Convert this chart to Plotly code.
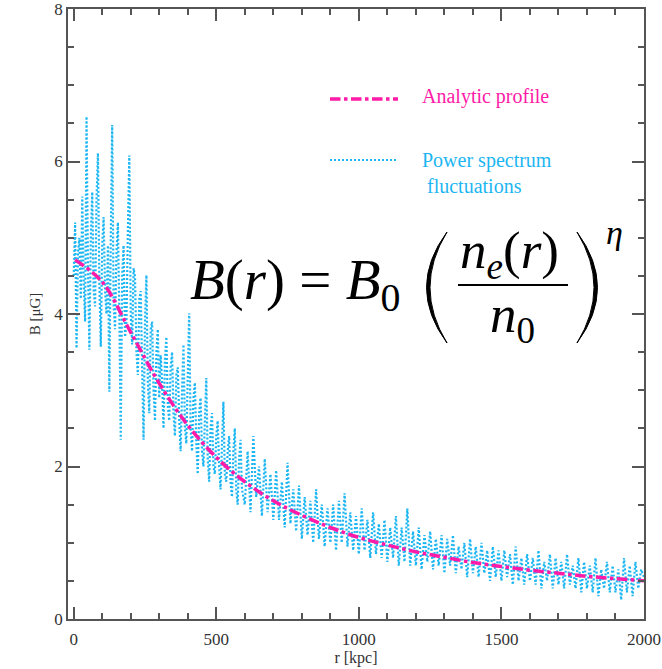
import plotly.graph_objects as go

# ---------------- data ----------------
r_analytic = [5, 100, 200, 300, 400, 500, 600, 700, 800, 900, 1000,
              1100, 1200, 1300, 1400, 1500, 1600, 1700, 1800, 1900, 2000]
B_analytic = [4.71, 4.42, 3.76, 3.09, 2.54, 2.12, 1.80, 1.55, 1.36, 1.20, 1.07,
              0.97, 0.88, 0.81, 0.74, 0.69, 0.64, 0.60, 0.56, 0.53, 0.50]

# fluctuating profile, 0-595 kpc sampled every 5 kpc
B_fluct_inner = [
    4.5, 5.2, 3.55, 4.8, 5.0, 4.2, 5.54, 4.4, 3.9, 6.59,
    4.6, 3.53, 5.0, 5.6, 4.3, 4.1, 5.5, 6.11, 4.4, 3.57,
    4.9, 5.27, 4.3, 4.0, 4.9, 2.98, 5.0, 6.48, 4.1, 3.8,
    4.8, 5.2, 4.0, 2.35, 4.5, 4.9, 3.7, 3.9, 5.1, 6.08,
    4.0, 3.6, 4.6, 4.49, 3.5, 3.2, 4.2, 4.3, 3.3, 2.35,
    3.9, 4.51, 3.1, 2.7, 3.8, 3.9, 3.0, 2.6, 3.5, 3.8,
    2.9, 3.46, 3.1, 2.5, 3.4, 3.70, 2.8, 2.6, 3.3, 3.5,
    2.7, 2.4, 3.2, 3.3, 2.6, 2.2, 3.0, 3.6, 2.5, 2.3,
    3.2, 4.01, 2.5, 2.2, 2.9, 3.1, 2.3, 1.9, 2.7, 2.9,
    2.2, 2.0, 2.6, 3.16, 2.1, 1.8, 2.5, 2.7, 2.0, 1.9,
    2.4, 2.6, 2.0, 1.7, 2.3, 2.85, 1.9, 1.8, 2.2, 2.4,
    1.8, 1.6, 2.2, 2.5, 1.7, 1.5, 2.1, 2.35, 1.7, 1.6,
]
# fluctuating profile, 600-2000 kpc sampled every 10 kpc
B_fluct_outer = [
    1.5, 2.2, 1.4, 2.4, 1.6, 2.0, 1.35, 2.1, 1.4, 1.9,
    1.3, 1.95, 1.3, 1.8, 1.2, 2.05, 1.25, 1.7, 1.15, 1.75,
    1.05, 1.6, 1.1, 1.55, 1.0, 1.7, 1.05, 1.5, 0.95, 1.45,
    1.0, 1.5, 0.9, 1.55, 1.0, 1.65, 0.95, 1.4, 0.9, 1.35,
    0.85, 1.45, 0.9, 1.3, 0.8, 1.4, 0.85, 1.25, 0.8, 1.3,
    0.75, 1.2, 0.8, 1.35, 0.7, 1.2, 0.75, 1.45, 0.7, 1.15,
    0.7, 1.2, 0.65, 1.1, 0.75, 1.15, 0.65, 1.05, 0.7, 1.1,
    0.6, 1.05, 0.7, 1.1, 0.6, 0.95, 0.65, 1.0, 0.55, 1.05,
    0.6, 0.95, 0.55, 1.0, 0.6, 0.9, 0.5, 0.95, 0.55, 0.9,
    0.5, 0.9, 0.55, 0.85, 0.45, 0.95, 0.5, 0.8, 0.45, 0.85,
    0.5, 0.8, 0.45, 0.9, 0.4, 0.75, 0.5, 0.85, 0.4, 0.8,
    0.45, 0.75, 0.4, 0.85, 0.45, 0.7, 0.4, 0.8, 0.35, 0.75,
    0.4, 0.7, 0.35, 0.8, 0.3, 0.65, 0.4, 0.75, 0.35, 0.7,
    0.35, 0.65, 0.25, 0.8, 0.35, 0.7, 0.3, 0.75, 0.4, 0.65,
    0.55,
]
r_fluct = ([i * 5 for i in range(len(B_fluct_inner))]
           + [600 + i * 10 for i in range(len(B_fluct_outer))])
B_fluct = B_fluct_inner + B_fluct_outer

x_ticks = [0, 500, 1000, 1500, 2000]
y_ticks = [0, 2, 4, 6, 8]

legend_labels = ["Analytic profile", "Power spectrum<br> fluctuations"]

# ---------------- style ----------------
W, H = 662, 669
L, R, T, B = 68, 18, 9, 50
PW, PH = W - L - R, H - T - B

MAGENTA = "#ff1aa8"
BLUE = "#1cb6f2"
AXIS = "#555555"
SERIF = "Liberation Serif, Times New Roman, serif"


def px(x):
    return (x - L) / PW


def py(y):
    return (H - B - y) / PH


fig = go.Figure()
fig.add_trace(go.Scatter(x=r_fluct, y=B_fluct, mode="lines",
                         line=dict(color=BLUE, width=2.2, dash="2px,2px"),
                         showlegend=False))
fig.add_trace(go.Scatter(x=r_analytic, y=B_analytic, mode="lines",
                         line=dict(color=MAGENTA, width=3.5, dash="dashdot", shape="spline"),
                         showlegend=False))

axis_common = dict(showgrid=False, zeroline=False, showline=True, linecolor=AXIS,
                   linewidth=1.5, mirror="allticks", ticks="inside", ticklen=12,
                   tickwidth=1.5, tickcolor=AXIS, automargin=False,
                   ticklabeloverflow="allow",
                   tickfont=dict(family=SERIF, size=17, color="#333333"))

fig.update_xaxes(range=[-20, 2000], tickvals=x_ticks, ticktext=[str(v) for v in x_ticks],
                 minor=dict(ticks="inside", ticklen=6, tickwidth=1.5, tickcolor=AXIS, dtick=100),
                 title=dict(text="r [kpc]", font=dict(family=SERIF, size=16, color="#333333"),
                            standoff=4),
                 ticklabelstandoff=4, **axis_common)
fig.update_yaxes(range=[0, 8], tickvals=y_ticks, ticktext=[str(v) for v in y_ticks],
                 minor=dict(ticks="inside", ticklen=6, tickwidth=1.5, tickcolor=AXIS, dtick=0.5),
                 title=dict(text="B [μG]", font=dict(family=SERIF, size=15, color="#333333"),
                            standoff=10),
                 **axis_common)

shapes = []
annotations = []

# legend samples
shapes.append(dict(type="line", xref="paper", yref="paper", x0=px(330), x1=px(398),
                   y0=py(99), y1=py(99), line=dict(color=MAGENTA, width=3.5, dash="dashdot")))
shapes.append(dict(type="line", xref="paper", yref="paper", x0=px(330), x1=px(398),
                   y0=py(160), y1=py(160), line=dict(color=BLUE, width=2.2, dash="2px,2px")))
annotations.append(dict(xref="paper", yref="paper", x=px(420), y=py(97), xanchor="left",
                        yanchor="middle", showarrow=False, text=legend_labels[0],
                        font=dict(family=SERIF, size=20, color=MAGENTA)))
annotations.append(dict(xref="paper", yref="paper", x=px(420), y=py(173), xanchor="left",
                        yanchor="middle", showarrow=False, text=legend_labels[1], align="left",
                        font=dict(family=SERIF, size=20, color=BLUE)))

# formula
annotations.append(dict(xref="paper", yref="paper", x=px(188), y=py(284), xanchor="left",
                        yanchor="middle", showarrow=False,
                        text="<i>B</i>(<i>r</i>) = <i>B</i><sub>0</sub>",
                        font=dict(family=SERIF, size=57, color="black")))
annotations.append(dict(xref="paper", yref="paper", x=px(509), y=py(254), xanchor="center",
                        yanchor="middle", showarrow=False,
                        text="<i>n</i><sub><i>e</i></sub>(<i>r</i>)",
                        font=dict(family=SERIF, size=53, color="black")))
annotations.append(dict(xref="paper", yref="paper", x=px(512), y=py(318), xanchor="center",
                        yanchor="middle", showarrow=False,
                        text="<i>n</i><sub>0</sub>",
                        font=dict(family=SERIF, size=53, color="black")))
annotations.append(dict(xref="paper", yref="paper", x=px(614), y=py(232), xanchor="center",
                        yanchor="middle", showarrow=False, text="<i>η</i>",
                        font=dict(family=SERIF, size=34, color="black")))
shapes.append(dict(type="line", xref="paper", yref="paper", x0=px(458), x1=px(568),
                   y0=py(285), y1=py(285), line=dict(color="black", width=2)))


def paren(xe, xo, xi, y0, y1):
    ym = (y0 + y1) / 2
    return (f"M {px(xe)},{py(y0)} Q {px(xo)},{py(ym)} {px(xe)},{py(y1)} "
            f"Q {px(xi)},{py(ym)} {px(xe)},{py(y0)} Z")


shapes.append(dict(type="path", xref="paper", yref="paper",
                   path=paren(447, 406, 413, 232, 343),
                   fillcolor="black", line=dict(color="black", width=1)))
shapes.append(dict(type="path", xref="paper", yref="paper",
                   path=paren(577, 618, 611, 232, 343),
                   fillcolor="black", line=dict(color="black", width=1)))

fig.update_layout(width=W, height=H, margin=dict(l=L, r=R, t=T, b=B),
                  plot_bgcolor="white", paper_bgcolor="white",
                  shapes=shapes, annotations=annotations, showlegend=False)

fig.write_html("out.html", config={"displayModeBar": False},
               post_script="document.body.style.margin='0px';")
